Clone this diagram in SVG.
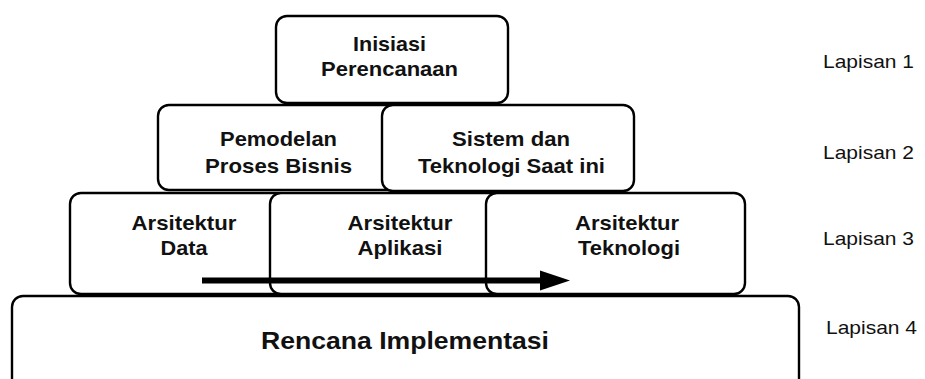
<svg xmlns="http://www.w3.org/2000/svg" width="925" height="379" viewBox="0 0 925 379">
<style>
.box{fill:#fff;stroke:#000;stroke-width:2.4}
.t{font-family:"Liberation Sans",Arial,sans-serif;font-weight:bold;font-size:20.5px;fill:#111;text-anchor:middle}
.big{font-size:24px}
.lab{font-family:"Liberation Sans",Arial,sans-serif;font-size:19px;fill:#111}
</style>
<rect width="925" height="379" fill="#fff"/>
<g id="rencana-implementasi">
<rect class="box" x="12" y="296" width="787" height="110" rx="11"/>
<text class="t big" x="405" y="348.5" textLength="288" lengthAdjust="spacingAndGlyphs">Rencana Implementasi</text>
</g>
<g id="inisiasi-perencanaan">
<rect class="box" x="276" y="16" width="232" height="87" rx="11"/>
<text class="t" x="389.5" y="51" textLength="73" lengthAdjust="spacingAndGlyphs">Inisiasi</text>
<text class="t" x="389.5" y="76" textLength="137" lengthAdjust="spacingAndGlyphs">Perencanaan</text>
</g>
<g id="pemodelan-proses-bisnis">
<rect class="box" x="158" y="105" width="240" height="85" rx="11"/>
<text class="t" x="278.5" y="146" textLength="117" lengthAdjust="spacingAndGlyphs">Pemodelan</text>
<text class="t" x="278.5" y="172.5" textLength="147" lengthAdjust="spacingAndGlyphs">Proses Bisnis</text>
</g>
<g id="sistem-teknologi">
<rect class="box" x="382" y="105" width="252" height="86" rx="11"/>
<text class="t" x="511" y="146" textLength="118" lengthAdjust="spacingAndGlyphs">Sistem dan</text>
<text class="t" x="511.5" y="172.5" textLength="187" lengthAdjust="spacingAndGlyphs">Teknologi Saat ini</text>
</g>
<g id="arsitektur-data">
<rect class="box" x="70" y="193" width="220" height="101" rx="11"/>
<text class="t" x="184" y="230" textLength="105" lengthAdjust="spacingAndGlyphs">Arsitektur</text>
<text class="t" x="184" y="255" textLength="47" lengthAdjust="spacingAndGlyphs">Data</text>
</g>
<g id="arsitektur-aplikasi">
<rect class="box" x="270" y="193" width="240" height="101" rx="11"/>
<text class="t" x="400" y="230" textLength="105" lengthAdjust="spacingAndGlyphs">Arsitektur</text>
<text class="t" x="400" y="255" textLength="85" lengthAdjust="spacingAndGlyphs">Aplikasi</text>
</g>
<g id="arsitektur-teknologi">
<rect class="box" x="486" y="193" width="259" height="101" rx="11"/>
<text class="t" x="627" y="230" textLength="104" lengthAdjust="spacingAndGlyphs">Arsitektur</text>
<text class="t" x="629" y="255" textLength="102" lengthAdjust="spacingAndGlyphs">Teknologi</text>
</g>
<g id="connectors">
<line x1="202" y1="280.5" x2="545" y2="280.5" stroke="#000" stroke-width="6"/>
<polygon points="540,270.5 570,280.5 540,290.5" fill="#000"/>
</g>
<g id="labels">
<text class="lab" x="823" y="67.5" textLength="91" lengthAdjust="spacingAndGlyphs">Lapisan 1</text>
<text class="lab" x="823" y="159" textLength="91" lengthAdjust="spacingAndGlyphs">Lapisan 2</text>
<text class="lab" x="823" y="245" textLength="91" lengthAdjust="spacingAndGlyphs">Lapisan 3</text>
<text class="lab" x="826" y="334" textLength="91" lengthAdjust="spacingAndGlyphs">Lapisan 4</text>
</g>
</svg>
